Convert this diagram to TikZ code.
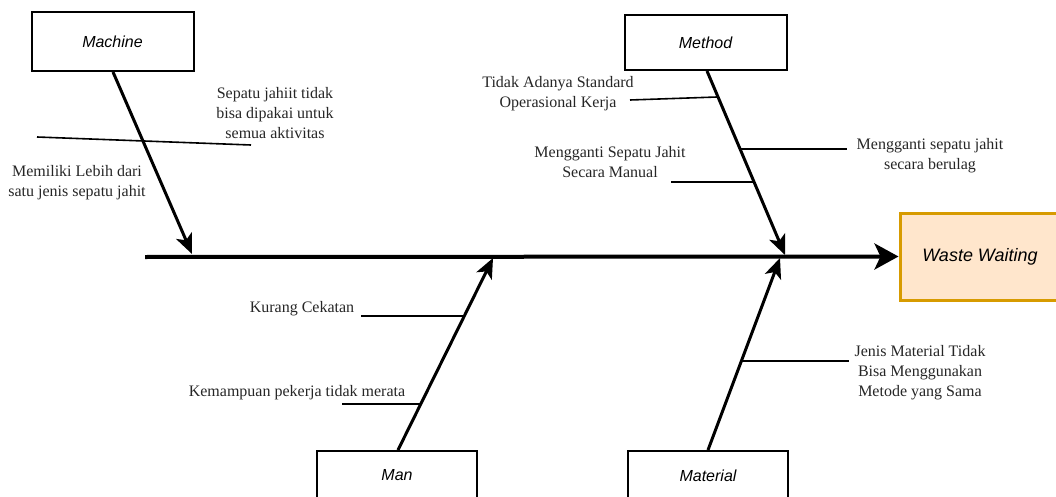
\documentclass[tikz,border=0pt]{standalone}
\usepackage{fontspec}
\setmainfont{Liberation Serif}
\setsansfont{Liberation Sans}
\usepackage{tikz}
\usetikzlibrary{arrows.meta}
\definecolor{wastefill}{HTML}{FFE6CC}
\definecolor{wasteline}{HTML}{D79B00}

\begin{document}
\begin{tikzpicture}[x=1pt, y=-1pt,
  cat/.style={draw, line width=2pt, minimum width=162pt, inner sep=0pt, font=\sffamily\itshape\fontsize{16}{19}\selectfont},
  effect/.style={draw=wasteline, fill=wastefill, line width=3pt, minimum width=160pt, minimum height=87pt, inner sep=0pt, font=\sffamily\itshape\fontsize{18}{21}\selectfont},
  cause/.style={align=center, inner sep=0pt, text=black!85, font=\fontsize{16}{20}\selectfont},
  spine/.style={line width=4pt, -{Stealth[length=24pt, width=26pt, inset=6pt]}},
  bone/.style={line width=3pt, -{Stealth[length=20pt, width=17pt, inset=5pt]}},
  twig/.style={line width=1.6pt}]
\useasboundingbox (0,0) rectangle (1056,497);
% categories and effect
\node[cat, minimum height=59pt] (mach) at (112.5,41.5)  {Machine};
\node[cat, minimum height=55pt] (meth) at (705.5,42.5)  {Method};
\node[cat, minimum height=49pt, minimum width=160pt] (man)  at (397,475.5) {Man};
\node[cat, minimum height=49pt, minimum width=160pt] (mat)  at (708,475.5) {Material};
\node[effect] (waste) at (980,256.5) {Waste Waiting};
% spine and main bones
\coordinate (spL) at (145,257);
\coordinate (tMach) at (192,254);
\coordinate (tMeth) at (785,255);
\coordinate (tMan)  at (493,258);
\coordinate (tMat)  at (780,258);
\draw[spine] (spL) -- (waste.west);
\draw[bone] (mach.south -| 113,0) -- (tMach);
\draw[bone] (meth.south -| 707,0) -- (tMeth);
\draw[bone] (man.north -| 398,0) -- (tMan);
\draw[bone] (mat.north -| 708,0) -- (tMat);
% causes
\node[cause] (mc1) at (275,113) {Sepatu jahiit tidak\\bisa dipakai untuk\\semua aktivitas};
\node[cause] (mc2) at (77,183)  {Memiliki Lebih dari\\satu jenis sepatu jahit};
\node[cause] (me1) at (558,94)  {Tidak Adanya Standard\\Operasional Kerja};
\node[cause] (me2) at (610,162) {Mengganti Sepatu Jahit\\Secara Manual};
\node[cause] (me3) at (930,156) {Mengganti sepatu jahit\\secara berulag};
\node[cause] (mn1) at (302,309) {Kurang Cekatan};
\node[cause] (mn2) at (297,393) {Kemampuan pekerja tidak merata};
\node[cause] (mt1) at (920,373) {Jenis Material Tidak\\Bisa Menggunakan\\Metode yang Sama};
% small bones
\coordinate (mcA) at (37,137);   \coordinate (mcB) at (251,145);
\coordinate (meA) at (630,100);  \coordinate (meB) at (717,97);
\coordinate (meC) at (671,182);  \coordinate (meD) at (754,182);
\coordinate (meE) at (741,149);  \coordinate (meF) at (847,149);
\coordinate (mnA) at (361,316);  \coordinate (mnB) at (464,316);
\coordinate (mnC) at (342,404);  \coordinate (mnD) at (421,404);
\coordinate (mtA) at (742,361);  \coordinate (mtB) at (849,361);
\draw[twig] (mcA) -- (mcB);
\draw[twig] (meA) -- (meB);
\draw[twig] (meC) -- (meD);
\draw[twig] (meE) -- (meF);
\draw[twig] (mnA) -- (mnB);
\draw[twig] (mnC) -- (mnD);
\draw[twig] (mtA) -- (mtB);
\end{tikzpicture}
\end{document}
